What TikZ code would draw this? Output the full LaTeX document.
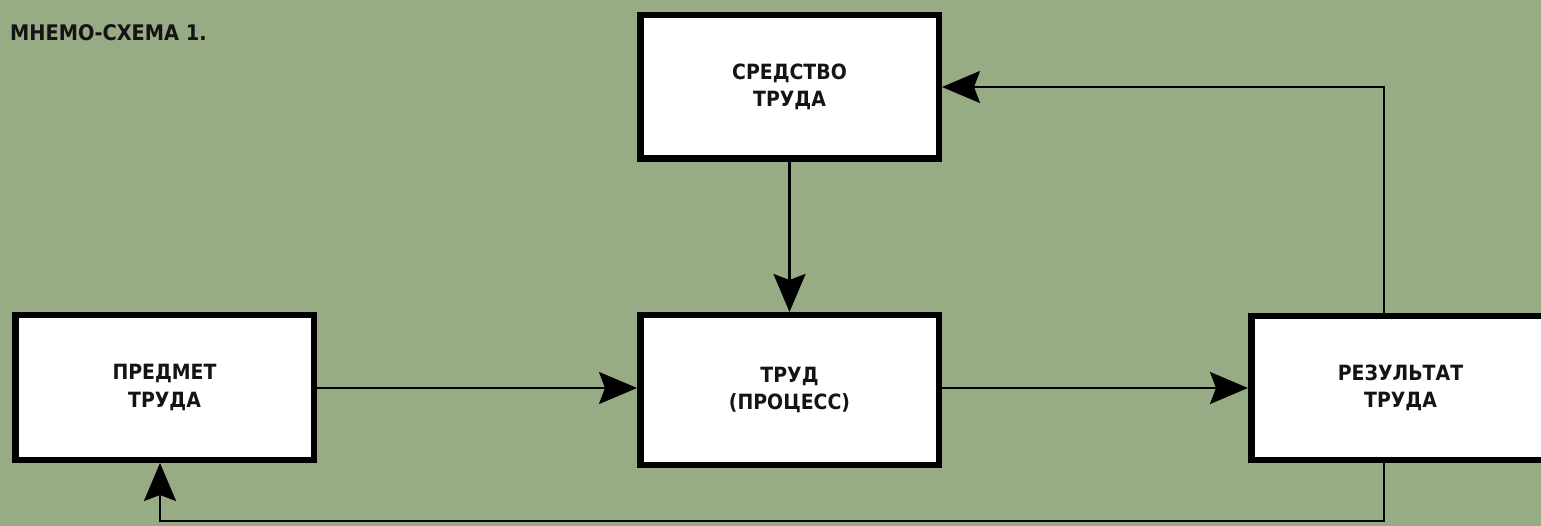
\documentclass[tikz,border=0pt]{standalone}
\usepackage{fontspec}
\setmainfont{DejaVu Sans Condensed}
\usetikzlibrary{arrows.meta}
\definecolor{bg}{RGB}{151,171,133}
\definecolor{ink}{RGB}{20,20,20}
\begin{document}
\begin{tikzpicture}[x=1pt,y=-1pt,
  box/.style={draw=black,line width=6.5pt,fill=white,minimum width=298.5pt,inner sep=0pt,
    align=center,font=\fontsize{21}{27.5}\selectfont\bfseries,text=ink},
  conn/.style={line width=2.2pt,draw=black},
  arr/.style={conn,-{Stealth[length=38pt,width=32pt,inset=6pt]}}]
\clip (0,0) rectangle (1541,526);
\fill[bg] (0,0) rectangle (1541,526);
\node[anchor=base west,font=\fontsize{21.5}{24}\selectfont\bfseries,text=ink,inner sep=0pt] (title) at (10,41) {МНЕМО-СХЕМА 1.};
\node[box,minimum height=143.5pt] (top) at (789.5,87) {СРЕДСТВО\\ТРУДА};
\node[box,minimum height=149.5pt] (mid) at (789.5,390) {ТРУД\\(ПРОЦЕСС)};
\node[box,minimum height=144.5pt] (left) at (164.5,387.5) {ПРЕДМЕТ\\ТРУДА};
\node[box,minimum height=143.5pt] (res) at (1400.5,388) {РЕЗУЛЬТАТ\\ТРУДА};
\coordinate (c1) at (1384,87);
\coordinate (c2) at (1384,521);
\coordinate (c3) at (160,521);
\draw[arr] (left.east |- 0,388) -- (mid.west |- 0,388);
\draw[arr] (mid.east |- 0,388) -- (res.west |- 0,388);
\draw[arr] (top.south) -- (mid.north);
\draw[arr] (res.north -| c1) |- (top.east);
\draw[arr] (res.south -| c2) |- (c3) -- (c3 |- left.south);
\end{tikzpicture}
\end{document}
